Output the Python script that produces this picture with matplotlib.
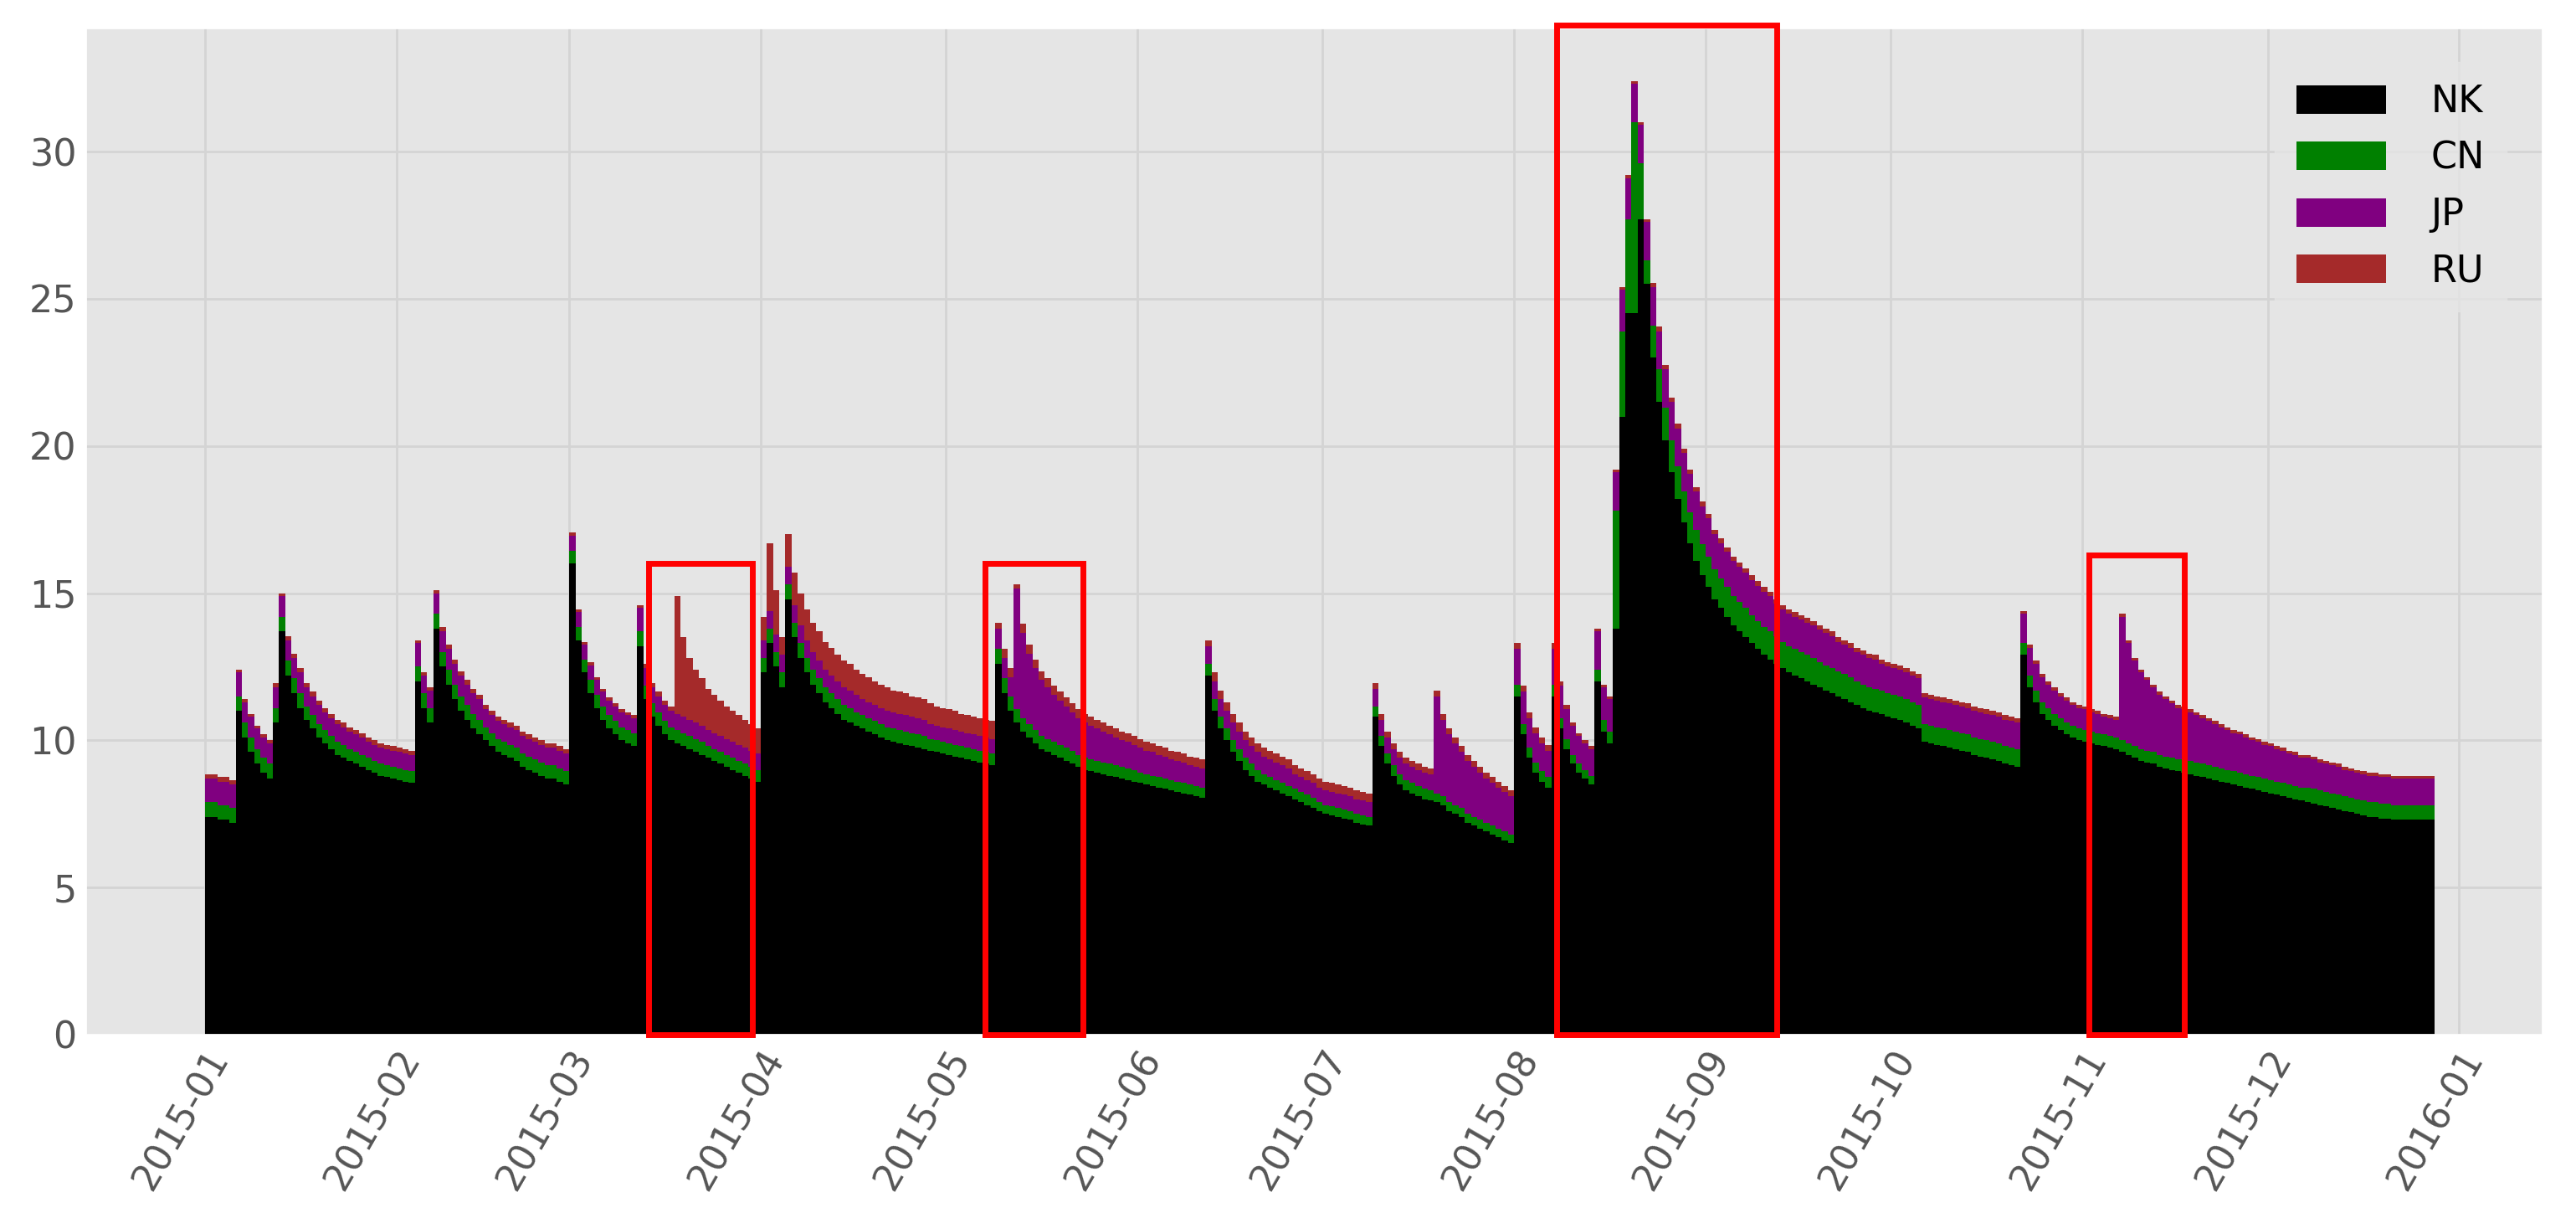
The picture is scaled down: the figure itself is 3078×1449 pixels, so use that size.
import matplotlib
matplotlib.use("Agg")
import matplotlib.pyplot as plt
import matplotlib.dates as mdates
from matplotlib.patches import Rectangle
import numpy as np
import datetime as dt

plt.style.use("ggplot")

START = dt.date(2015, 1, 1)

NK = [7.4,7.4,7.3,7.3,7.2,
 11.0,10.1,9.6,9.2,8.9,8.7,
 10.6,13.7,
 12.2,11.6,11.1,10.7,10.4,10.1,9.9,9.7,9.5,9.4,9.3,9.2,9.1,9.0,8.9,8.8,8.75,8.7,8.65,8.6,8.55,
 12.0,11.1,10.6,13.8,
 12.5,11.9,11.4,11.0,10.7,10.4,10.2,10.0,9.8,9.6,9.5,9.4,9.3,9.1,9.0,8.9,8.8,8.7,8.7,8.6,8.5,
 16.0,13.4,12.3,11.6,11.1,10.7,10.4,10.2,10.0,9.9,9.8,
 13.2,11.4,10.8,10.5,10.2,10.0,
 9.9,9.8,9.7,9.6,9.5,9.4,9.3,9.2,9.1,9.0,8.9,8.8,8.7,8.6,
 12.3,13.3,12.5,11.8,14.8,
 13.5,12.8,12.3,11.9,11.6,11.3,11.1,10.9,10.7,10.6,10.5,10.4,10.3,10.2,10.1,10.0,9.95,9.9,9.85,9.8,9.75,9.7,9.65,9.6,9.55,9.5,9.45,9.4,9.35,9.3,9.25,9.2,9.15,
 12.6,11.6,11.0,
 10.6,10.3,10.1,9.9,9.7,9.6,9.5,9.4,9.3,9.2,9.1,9.0,8.95,8.9,8.85,8.8,8.75,8.7,8.65,8.6,8.55,8.5,8.45,8.4,8.35,8.3,8.25,8.2,8.15,8.1,8.05,
 12.2,11.0,10.4,10.0,9.6,9.3,9.0,8.8,8.6,8.5,8.4,8.3,8.2,8.1,8.0,7.9,7.8,7.7,7.6,7.5,7.45,7.4,7.35,7.3,7.2,7.15,7.1,
 10.8,9.8,9.2,8.8,8.5,8.3,8.2,8.1,8.0,7.95,
 7.9,7.8,7.6,7.5,7.4,7.2,7.1,7.0,6.9,6.8,6.7,6.6,6.5,
 11.5,10.2,9.4,8.9,8.6,8.4,
 11.5,10.4,9.7,9.2,8.9,8.7,8.5,
 12.0,10.3,9.9,
 13.8,21.0,24.5,24.5,27.7,25.5,
 23.0,21.5,20.2,19.1,18.2,17.4,16.7,16.1,15.6,15.2,14.8,14.5,14.2,13.9,13.7,13.5,13.3,13.1,12.9,12.75,12.6,12.45,12.3,12.2,12.1,12.0,11.9,11.8,11.7,11.6,11.5,11.4,11.3,11.2,11.1,11.0,10.95,10.9,10.8,10.75,10.7,10.6,10.5,10.4,
 9.95,9.9,9.85,9.8,9.75,9.7,9.65,9.6,9.5,9.45,9.4,9.35,9.3,9.2,9.15,9.1,
 12.9,11.8,11.3,10.9,10.7,10.5,10.35,10.2,10.1,10.0,9.95,9.9,9.85,9.8,9.75,9.7,
 9.6,9.5,9.4,9.3,9.25,9.2,9.1,9.05,9.0,8.95,8.9,8.85,8.8,8.75,8.7,8.65,8.6,8.55,8.5,8.45,8.4,8.35,8.3,8.25,8.2,8.15,8.1,8.05,8.0,7.95,7.9,7.85,7.8,7.75,7.7,7.65,7.6,7.55,7.5,7.45,7.4,7.4,7.35,7.35,7.3,7.3,7.3,7.3,7.3,7.3,7.3]

CN = [.5,.5,.5,.5,.5,
 .5,.5,.5,.5,.5,.5,
 .5,.5,
 .5,.5,.5,.45,.45,.45,.45,.45,.45,.45,.4,.4,.4,.4,.4,.4,.4,.4,.4,.4,.4,
 .5,.5,.5,.5,
 .5,.5,.5,.5,.5,.5,.5,.45,.45,.45,.45,.45,.45,.45,.45,.45,.45,.45,.45,.45,.45,
 .45,.45,.45,.45,.45,.45,.45,.45,.45,.45,.45,
 .5,.45,.45,.45,.45,.45,
 .45,.45,.45,.45,.45,.4,.4,.4,.4,.4,.4,.4,.4,.4,
 .5,.5,.5,.5,.5,
 .5,.5,.5,.5,.5,.5,.5,.5,.5,.5,.45,.45,.45,.45,.45,.45,.45,.45,.45,.45,.45,.45,.4,.4,.4,.4,.4,.4,.4,.4,.4,.4,.4,
 .5,.5,.5,
 .45,.45,.45,.45,.45,.45,.45,.45,.45,.45,.4,.4,.4,.4,.4,.4,.4,.4,.4,.4,.35,.35,.35,.35,.35,.35,.35,.35,.35,.35,.35,
 .4,.4,.4,.4,.4,.4,.4,.4,.4,.35,.35,.35,.35,.35,.35,.35,.35,.35,.3,.3,.3,.3,.3,.3,.3,.3,.3,
 .35,.35,.35,.35,.35,.35,.35,.35,.35,.35,
 .3,.3,.3,.3,.3,.3,.3,.3,.3,.3,.3,.3,.3,
 .4,.35,.35,.35,.35,.35,
 .4,.35,.35,.3,.3,.3,.3,
 .4,.4,.4,
 4.0,2.9,3.2,6.5,1.9,.8,
 1.1,1.1,1.1,1.1,1.1,1.05,1.05,1.05,1.05,1.05,1.0,1.0,1.0,1.0,1.0,1.0,.95,.95,.95,.95,.95,.9,.9,.9,.9,.9,.9,.85,.85,.85,.85,.85,.85,.8,.8,.8,.8,.8,.8,.8,.8,.8,.8,.8,
 .6,.6,.6,.6,.6,.6,.6,.6,.6,.6,.6,.6,.6,.6,.6,.6,
 .4,.4,.4,.4,.4,.4,.4,.4,.4,.4,.4,.4,.4,.4,.4,.4,
 .4,.4,.4,.4,.4,.4,.4,.4,.4,.4,.45,.45,.45,.45,.45,.45,.45,.45,.45,.45,.45,.45,.45,.45,.45,.45,.45,.45,.45,.45,.5,.5,.5,.5,.5,.5,.5,.5,.5,.5,.5,.5,.5,.5,.5,.5,.5,.5,.5,.5,.5]

JP = [.8,.8,.8,.8,.8,
 .8,.7,.7,.7,.7,.7,
 .7,.7,
 .7,.7,.7,.65,.65,.65,.6,.6,.6,.6,.6,.6,.6,.55,.55,.55,.55,.55,.55,.55,.55,
 .8,.6,.6,.7,
 .7,.7,.7,.7,.7,.7,.7,.6,.6,.6,.6,.6,.6,.6,.6,.6,.6,.6,.6,.6,.6,
 .5,.5,.5,.5,.5,.5,.5,.5,.5,.5,.5,
 .8,.6,.55,.55,.55,.55,
 .55,.55,.55,.55,.55,.55,.55,.55,.55,.55,.55,.55,.55,.55,
 .6,.6,.6,.6,.6,
 .6,.6,.6,.6,.6,.6,.6,.6,.6,.6,.6,.55,.55,.55,.55,.55,.55,.55,.55,.55,.55,.55,.5,.5,.5,.5,.5,.5,.5,.5,.5,.5,.5,
 .7,.7,.65,
 4.1,2.9,2.4,2.1,1.9,1.75,1.6,1.5,1.4,1.3,1.25,1.2,1.15,1.1,1.05,1.0,.95,.9,.9,.85,.85,.8,.8,.75,.75,.7,.7,.7,.65,.65,.65,
 .6,.6,.6,.6,.6,.6,.6,.6,.6,.6,.6,.6,.6,.6,.5,.5,.5,.5,.5,.5,.5,.5,.5,.5,.5,.5,.5,
 .6,.55,.55,.55,.55,.55,.55,.55,.55,.55,
 3.3,2.6,2.3,2.1,1.9,1.8,1.7,1.6,1.5,1.45,1.4,1.35,1.3,
 1.2,1.1,1.0,1.0,.95,.9,
 1.2,1.1,1.0,1.0,.95,.9,.9,
 1.3,1.1,1.1,
 1.3,1.4,1.4,1.3,1.3,1.3,
 1.3,1.3,1.3,1.3,1.3,1.3,1.3,1.3,1.3,1.3,1.2,1.2,1.2,1.2,1.2,1.2,1.2,1.2,1.2,1.2,1.1,1.1,1.1,1.1,1.1,1.1,1.1,1.1,1.1,1.1,1.0,1.0,1.0,1.0,1.0,1.0,1.0,.9,.9,.9,.9,.9,.9,.9,
 .9,.9,.9,.9,.9,.9,.9,.9,.9,.9,.9,.9,.9,.9,.9,.9,
 1.0,.95,.9,.85,.8,.8,.75,.75,.7,.7,.7,.65,.65,.6,.6,.6,
 4.2,3.4,2.9,2.6,2.4,2.2,2.05,1.95,1.85,1.75,1.7,1.65,1.6,1.55,1.5,1.45,1.4,1.35,1.3,1.3,1.25,1.2,1.2,1.15,1.15,1.1,1.1,1.05,1.05,1.0,1.0,1.0,.95,.95,.95,.95,.9,.9,.9,.9,.9,.9,.9,.9,.9,.9,.9,.9,.9,.9,.9]

RU = [.15,.15,.15,.15,.15,
 .1,.1,.1,.1,.1,.1,
 .15,.1,
 .15,.15,.15,.15,.15,.15,.15,.15,.15,.15,.15,.15,.15,.15,.15,.15,.15,.15,.15,.15,.15,
 .1,.1,.1,.1,
 .15,.15,.15,.15,.15,.15,.15,.15,.15,.15,.15,.15,.15,.15,.15,.15,.15,.15,.15,.15,.15,
 .1,.1,.1,.1,.1,.1,.1,.1,.1,.1,.1,
 .1,.15,.15,.15,.15,.15,
 4.0,2.7,2.1,1.8,1.6,1.4,1.3,1.2,1.1,1.05,1.0,.95,.9,.85,
 .8,2.3,1.5,.6,1.1,
 1.1,1.1,1.05,1.0,1.0,.95,.95,.9,.9,.9,.85,.85,.85,.8,.8,.8,.75,.75,.75,.7,.7,.7,.7,.65,.65,.65,.65,.6,.6,.6,.6,.6,.6,
 .2,.3,.3,
 .15,.3,.3,.3,.3,.3,.3,.3,.3,.3,.3,.3,.3,.3,.3,.3,.3,.3,.3,.3,.3,.3,.3,.3,.3,.3,.3,.3,.3,.3,.3,
 .2,.3,.3,.3,.3,.3,.3,.3,.3,.3,.3,.3,.3,.3,.3,.3,.3,.3,.3,.3,.3,.3,.3,.3,.3,.3,.3,
 .2,.2,.2,.2,.2,.2,.2,.2,.2,.2,
 .2,.2,.2,.2,.2,.2,.2,.2,.2,.2,.2,.2,.2,
 .2,.2,.2,.2,.2,.2,
 .2,.15,.15,.1,.1,.1,.1,
 .1,.1,.1,
 .1,.1,.1,.1,.1,.1,
 .15,.15,.15,.15,.15,.15,.15,.15,.15,.15,.15,.15,.15,.15,.15,.15,.15,.15,.15,.15,.15,.15,.15,.15,.15,.15,.15,.15,.15,.15,.15,.15,.15,.15,.15,.15,.15,.15,.15,.15,.15,.15,.15,.15,
 .15,.15,.15,.15,.15,.15,.15,.15,.15,.15,.15,.15,.15,.15,.15,.15,
 .1,.1,.1,.1,.1,.1,.1,.1,.1,.1,.1,.1,.1,.1,.1,.1,
 .1,.1,.1,.1,.1,.1,.1,.1,.1,.1,.1,.1,.1,.1,.1,.1,.1,.1,.1,.1,.1,.1,.1,.1,.1,.1,.1,.1,.1,.1,.1,.1,.1,.1,.1,.1,.1,.1,.1,.1,.1,.1,.1,.1,.1,.1,.1,.1,.1,.1,.1]

SERIES = ["NK", "CN", "JP", "RU"]
COLORS = ["black", "green", "purple", "brown"]
# highlight boxes: (start day offset, end day offset, top value)
BOXES = [(71.8, 88.6, 16.0), (126.3, 142.2, 16.0), (218.9, 254.5, 34.3), (305.0, 320.5, 16.3)]

n = min(len(NK), len(CN), len(JP), len(RU))
data = [np.array(s[:n]) for s in (NK, CN, JP, RU)]
base = mdates.date2num(START)
x = base + np.arange(n)

fig = plt.figure(figsize=(15.39, 7.245), dpi=200)
ax = fig.add_axes([0.033, 0.147, 0.954, 0.830])
ax.set_facecolor("#e5e5e5")
bottom = np.zeros(n)
for name, vals, col in zip(SERIES, data, COLORS):
    ax.bar(x, vals, width=1.0, bottom=bottom, color=col, linewidth=0, align="edge", label=name)
    bottom += vals

for s, e, top in BOXES:
    ax.add_patch(Rectangle((base + s, 0), e - s, top, fill=False, edgecolor="red",
                           linewidth=2.5, zorder=5, clip_on=False))

ax.set_xlim(base - 19.4, base + 378.5)
ax.set_ylim(0, 34.2)
ax.set_yticks([0, 5, 10, 15, 20, 25, 30])
ax.xaxis.set_major_locator(mdates.MonthLocator())
ax.xaxis.set_major_formatter(mdates.DateFormatter("%Y-%m"))
ax.grid(True, color="#d4d4d4", linewidth=1.0)
ax.tick_params(axis="both", labelsize=16, colors="#555555", length=0)
for lab in ax.get_xticklabels():
    lab.set_rotation(60)
    lab.set_ha("right")
    lab.set_rotation_mode("anchor")
leg = ax.legend(loc="upper right", fontsize=16, frameon=True, handlelength=2.4, handleheight=0.8,
                borderpad=0.6, labelspacing=0.55, handletextpad=1.2, bbox_to_anchor=(0.993, 0.985))
leg.get_frame().set_facecolor("#e5e5e5")
leg.get_frame().set_edgecolor("#e5e5e5")
fig.savefig("out.png", dpi=200)
